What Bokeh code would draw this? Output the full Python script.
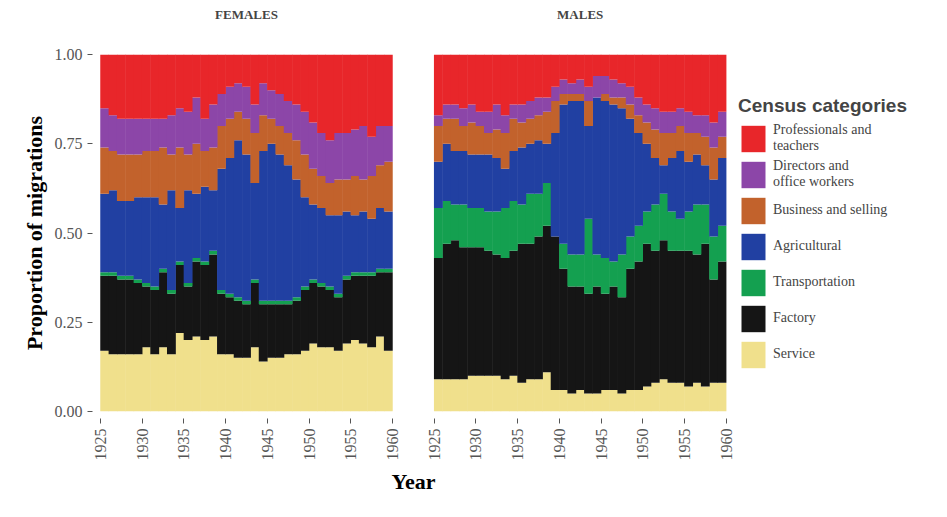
import numpy as np
from bokeh.plotting import figure
from bokeh.models import LinearAxis, FixedTicker, Range1d, Legend
from bokeh.embed import file_html
from bokeh.resources import INLINE

years = list(range(1925, 1960))
categories = ["Service", "Factory", "Transportation", "Agricultural",
              "Business and selling", "Directors and\noffice workers",
              "Professionals and\nteachers"]
colors = ["#f0e08c", "#151515", "#14a050", "#2140a2", "#c2622c", "#8c46a8", "#e8262a"]

# cumulative upper boundary of each category
females_service = [.17, .16, .16, .16, .16, .18, .16, .18, .16, .22, .20, .21, .20, .21, .16, .16, .15, .15,
                   .18, .14, .15, .15, .16, .16, .17, .19, .18, .18, .17, .19, .20, .19, .18, .21, .17]
females_factory = [.38, .38, .37, .37, .36, .35, .34, .39, .33, .41, .35, .42, .41, .44, .33, .32, .31, .30,
                   .36, .30, .30, .30, .30, .31, .34, .36, .35, .34, .32, .37, .38, .38, .38, .39, .39]
females_transport = [.39, .39, .38, .38, .37, .36, .35, .40, .34, .42, .36, .43, .42, .45, .34, .33, .32, .31,
                     .37, .31, .31, .31, .31, .32, .35, .37, .36, .35, .33, .38, .39, .39, .39, .40, .40]
females_agri = [.61, .62, .59, .59, .60, .60, .60, .58, .62, .57, .62, .61, .63, .62, .68, .71, .76, .72,
                .64, .73, .75, .72, .69, .65, .60, .58, .57, .55, .55, .56, .55, .56, .54, .57, .56]
females_business = [.74, .73, .72, .72, .72, .73, .73, .74, .72, .74, .72, .75, .73, .74, .80, .82, .84, .82,
                    .78, .83, .82, .80, .78, .76, .72, .68, .66, .64, .65, .65, .66, .65, .66, .69, .70]
females_directors = [.85, .83, .82, .82, .82, .82, .82, .82, .83, .85, .84, .88, .82, .86, .89, .91, .92, .91,
                     .86, .92, .90, .89, .87, .86, .84, .81, .78, .76, .78, .78, .79, .80, .77, .80, .80]

males_service = [.09, .09, .09, .09, .10, .10, .10, .10, .09, .10, .08, .09, .09, .11, .06, .06, .05, .06,
                 .05, .05, .06, .06, .05, .06, .06, .07, .08, .09, .08, .08, .07, .08, .07, .08, .08]
males_factory = [.43, .47, .48, .46, .46, .46, .45, .44, .43, .45, .47, .47, .49, .52, .49, .40, .35, .35,
                 .33, .35, .33, .35, .32, .40, .42, .47, .45, .48, .45, .45, .45, .44, .47, .37, .42]
males_transport = [.57, .59, .58, .58, .57, .57, .56, .56, .57, .59, .58, .61, .61, .64, .49, .47, .44, .44,
                   .54, .44, .43, .42, .44, .49, .52, .56, .58, .61, .56, .54, .56, .58, .58, .49, .52]
males_agri = [.70, .75, .73, .73, .72, .72, .72, .71, .68, .73, .74, .75, .76, .75, .78, .86, .87, .87,
              .80, .88, .87, .86, .85, .82, .78, .75, .71, .69, .71, .73, .70, .72, .69, .65, .71]
males_business = [.80, .82, .82, .80, .81, .80, .78, .79, .78, .82, .81, .82, .83, .84, .87, .89, .89, .89,
                  .87, .88, .89, .88, .88, .86, .83, .81, .79, .78, .78, .80, .78, .78, .77, .74, .77]
males_directors = [.83, .86, .86, .85, .86, .84, .84, .86, .83, .86, .86, .87, .88, .88, .91, .93, .92, .93,
                   .91, .94, .94, .93, .92, .91, .88, .86, .85, .84, .84, .85, .84, .83, .83, .81, .84]

offset = 40  # males panel drawn to the right of females
serif = "Liberation Serif"

p = figure(frame_width=642, frame_height=371, output_backend="svg", toolbar_location=None,
           x_range=Range1d(1924.04, 2001), y_range=Range1d(-0.02, 1.02),
           min_border_left=92, min_border_top=47, min_border_bottom=88, min_border_right=0)
p.outline_line_color = None
p.grid.visible = False

ones = [1.0] * len(years)
fem = [[0.0] * len(years), females_service, females_factory, females_transport,
       females_agri, females_business, females_directors, ones]
mal = [[0.0] * len(years), males_service, males_factory, males_transport,
       males_agri, males_business, males_directors, ones]

xf = np.array(years) + 0.5
xm = xf + offset
items = []
for k in range(len(categories)):
    r1 = p.vbar(x=xf, bottom=fem[k], top=fem[k + 1], width=1.06,
                fill_color=colors[k], line_color=None)
    p.vbar(x=xm, bottom=mal[k], top=mal[k + 1], width=1.06,
           fill_color=colors[k], line_color=None)
    items.append((categories[k], [r1]))

ticks = [1925, 1930, 1935, 1940, 1945, 1950, 1955, 1960]
p.xaxis.ticker = FixedTicker(ticks=ticks + [t + offset for t in ticks])
p.xaxis.major_label_overrides = {float(t + offset): str(t) for t in ticks}
p.xaxis.major_label_orientation = np.pi / 2
p.xaxis.axis_label = "Year"
p.yaxis.axis_label = "Proportion of migrations"
p.yaxis.ticker = FixedTicker(ticks=[0, 0.25, 0.5, 0.75, 1.0])
p.yaxis.major_label_overrides = {0: "0.00", 0.25: "0.25", 0.5: "0.50", 0.75: "0.75", 1: "1.00"}
for ax in (p.xaxis, p.yaxis):
    ax.axis_line_color = None
    ax.minor_tick_line_color = None
    ax.major_tick_line_color = "#555555"
    ax.major_tick_in = 0
    ax.major_tick_out = 5
    ax.major_label_text_font = serif
    ax.major_label_text_font_size = "16px"
    ax.major_label_text_color = "#555555"
    ax.axis_label_text_font = serif
    ax.axis_label_text_font_style = "bold"
    ax.axis_label_text_color = "black"
p.xaxis.axis_label_text_font_size = "22px"
p.yaxis.axis_label_text_font_size = "22px"

top = LinearAxis(ticker=FixedTicker(ticks=[1942.5, 1942.5 + offset]),
                 major_label_overrides={1942.5: "FEMALES", 1942.5 + offset: "MALES"})
top.axis_line_color = None
top.major_tick_line_color = None
top.minor_tick_line_color = None
top.major_label_text_font = serif
top.major_label_text_font_style = "bold"
top.major_label_text_font_size = "13px"
top.major_label_standoff = 20
p.add_layout(top, "above")

legend = Legend(items=items[::-1], location="center_left")
legend.title = "Census categories"
legend.title_text_font = "Liberation Sans"
legend.title_text_font_style = "bold"
legend.title_text_font_size = "19px"
legend.label_text_font = serif
legend.label_text_font_size = "14px"
legend.glyph_width = 30
legend.glyph_height = 33
legend.label_height = 33
legend.spacing = 3
legend.border_line_color = None
legend.margin = 4
legend.padding = 2
p.add_layout(legend, "right")

open("out.html", "w").write(file_html(p, INLINE))
